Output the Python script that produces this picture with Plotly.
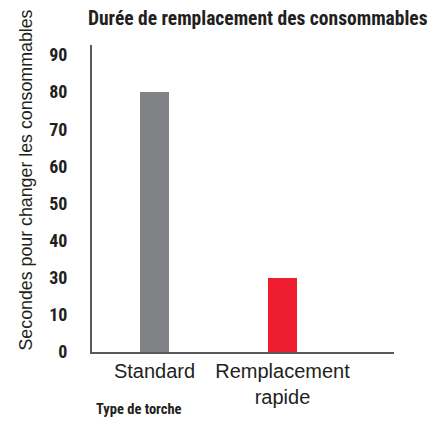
import plotly.graph_objects as go

# Data
categories = ["Standard", "Remplacement<br>rapide"]
seconds = [80, 30]
bar_colors = ["#808285", "#ED1C2E"]
tick_values = [10, 20, 30, 40, 50, 60, 70, 80, 90]
tick_labels = ["0", "10", "30", "40", "50", "60", "70", "80", "90"]

title_text = "Durée de remplacement des consommables"
y_title = "Secondes pour changer les consommables"
x_title = "Type de torche"

NARROW = "Roboto Condensed, Open Sans Condensed, Liberation Sans Narrow, sans-serif"
REG = "Liberation Sans, Arial, Helvetica, sans-serif"
AXIS_COLOR = "#58595B"
TEXT_COLOR = "#231F20"

fig = go.Figure(
    go.Bar(
        x=categories,
        y=seconds,
        marker=dict(color=bar_colors, line=dict(width=0)),
        width=0.227,
    )
)

# The page body adds an 8px offset, so margins are reduced accordingly
fig.update_layout(
    width=440,
    height=421,
    paper_bgcolor="white",
    plot_bgcolor="white",
    margin=dict(l=84, r=54, t=37, b=77, autoexpand=False),
    showlegend=False,
    bargap=0,
)

fig.add_annotation(
    text="<b>" + title_text + "</b>",
    xref="paper", yref="paper",
    x=(86 - 92) / 302, y=1 + (45 - 19) / 307,
    xanchor="left", yanchor="middle",
    showarrow=False,
    font=dict(family=NARROW, size=19.5, color=TEXT_COLOR),
)

fig.update_xaxes(
    range=[-0.488, 1.871],
    showline=True,
    linecolor=AXIS_COLOR,
    linewidth=2,
    ticks="",
    showgrid=False,
    zeroline=False,
    automargin=False,
    tickfont=dict(family=REG, size=20, color=TEXT_COLOR),
    ticklabelstandoff=0,
)

fig.update_yaxes(
    range=[10, 92.7],
    tickvals=tick_values,
    ticktext=tick_labels,
    showline=True,
    linecolor=AXIS_COLOR,
    linewidth=2,
    ticks="",
    showgrid=False,
    zeroline=False,
    automargin=False,
    tickfont=dict(family=NARROW, size=18, color=TEXT_COLOR, weight="bold"),
    ticklabelstandoff=19,
)

fig.add_annotation(
    text=y_title,
    xref="paper", yref="paper",
    x=(25 - 92) / 302, y=0.5,
    xanchor="center", yanchor="middle",
    textangle=-90,
    showarrow=False,
    font=dict(family=REG, size=17.8, color=TEXT_COLOR),
    yshift=18,
)

fig.add_annotation(
    text="<b>" + x_title + "</b>",
    xref="paper", yref="paper",
    x=(94 - 92) / 302, y=-(409 - 352) / 307,
    xanchor="left", yanchor="middle",
    showarrow=False,
    font=dict(family=NARROW, size=14.5, color=TEXT_COLOR),
)

fig.write_html("out.html")
